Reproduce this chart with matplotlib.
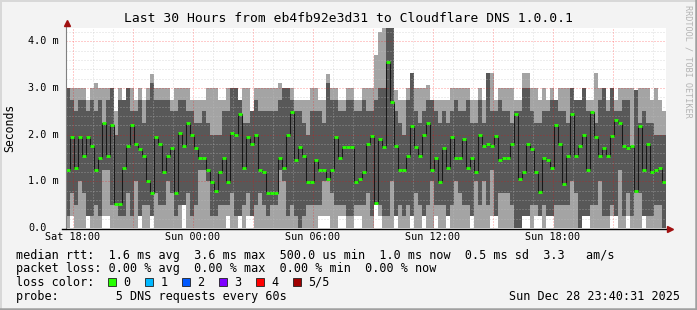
import numpy as np
import pandas as pd
import matplotlib
matplotlib.use("Agg")
import matplotlib.pyplot as plt
import matplotlib.dates as mdates
from matplotlib.patches import Rectangle
from matplotlib.lines import Line2D

# --- data (ms), 150 bins of 12 minutes, sorted pings p1 <= p2 <= median <= p4 <= p5 ---
median = [1.25, 1.95, 1.29, 1.95, 1.54, 1.95, 1.75, 1.25, 1.5, 2.24, 1.54, 2.2, 0.51, 0.51, 1.29, 1.75, 2.2, 1.79, 1.7, 1.54, 1.0, 0.75, 1.95, 1.79,
          1.21, 1.54, 1.71, 0.75, 2.04, 1.75, 2.24, 2.0, 1.71, 1.49, 1.49, 1.24, 0.99, 0.79, 1.21, 1.49, 0.99, 2.04, 2.0, 2.44, 1.29, 1.95, 1.79, 2.0, 1.24, 1.21,
          0.75, 0.75, 0.75, 1.49, 1.29, 2.0, 2.49, 1.46, 1.74, 1.54, 0.99, 0.99, 1.46, 1.24, 1.24, 1.04, 1.24, 1.95, 1.51, 1.74, 1.73, 1.74, 0.99, 1.04, 1.21,
          1.79, 1.97, 0.53, 1.91, 1.73, 3.56, 2.7, 1.75, 1.24, 1.24, 1.54, 2.19, 1.73, 1.54, 2.0, 2.24, 1.24, 1.49, 0.99, 1.71, 1.29, 1.95, 1.51, 1.49, 1.91,
          1.29, 1.51, 1.21, 2.0, 1.75, 1.79, 1.75, 1.97, 1.46, 1.49, 1.49, 1.79, 2.45, 1.04, 1.21, 1.79, 1.69, 1.21, 0.77, 1.49, 1.46, 1.29, 2.21, 1.79, 0.95,
          1.54, 2.45, 1.54, 1.75, 2.0, 1.24, 2.49, 1.95, 1.54, 1.71, 1.54, 1.97, 2.31, 2.24, 1.75, 1.71, 1.75, 0.79, 2.19, 1.24, 1.79, 1.21, 1.24, 1.29, 0.99]

p5 = [3.0, 3.0, 3.0, 3.0, 3.0, 2.75, 3.0, 3.1, 3.0, 3.0, 3.0, 3.0, 2.5, 3.0, 2.75, 3.0, 3.0, 2.75, 3.0, 2.75, 3.0, 3.3, 3.0, 3.0, 3.0,
      3.0, 2.75, 3.0, 3.0, 3.0, 3.0, 2.75, 2.75, 2.75, 2.75, 3.0, 3.0, 3.0, 2.75, 2.75, 3.0, 3.0, 3.0, 2.75, 3.0, 3.0, 2.5, 3.0, 3.0, 3.0,
      3.0, 3.0, 3.0, 3.1, 3.0, 3.0, 3.0, 2.75, 2.75, 2.75, 2.75, 3.0, 3.0, 2.75, 2.75, 3.3, 3.0, 3.0, 2.75, 2.75, 3.0, 3.0, 2.75, 2.75, 3.0,
      3.0, 3.0, 3.7, 4.2, 4.3, 4.3, 4.3, 2.95, 2.75, 2.75, 3.0, 3.32, 3.0, 3.0, 3.0, 3.07, 2.75, 2.75, 2.75, 2.75, 2.75, 3.0, 3.0, 3.0, 3.0,
      3.0, 2.75, 2.75, 3.0, 2.75, 3.32, 3.32, 2.75, 3.0, 3.0, 3.0, 3.0, 2.75, 2.75, 3.32, 3.32, 3.0, 3.0, 2.75, 3.0, 2.75, 3.0, 2.75, 3.0, 3.0,
      3.0, 3.0, 2.75, 2.75, 3.0, 2.75, 2.75, 3.32, 3.0, 3.0, 2.75, 3.0, 2.75, 3.0, 3.0, 3.0, 3.0, 2.95, 3.0, 3.0, 3.0, 2.75, 3.0, 2.75, 2.5]

p4 = [3.0, 2.75, 2.5, 2.75, 2.75, 2.5, 2.75, 2.5, 2.75, 2.25, 2.75, 3.0, 2.0, 2.75, 2.75, 3.0, 2.5, 2.5, 2.75, 2.25, 2.75, 3.1, 2.75, 2.75, 2.75,
      2.75, 2.5, 2.5, 2.75, 2.75, 2.5, 2.5, 2.25, 2.25, 2.5, 2.25, 2.0, 2.0, 2.0, 2.5, 2.5, 3.0, 3.0, 2.75, 2.25, 2.25, 2.5, 2.75, 2.5, 2.5,
      2.5, 2.5, 2.5, 2.75, 3.0, 3.0, 2.75, 2.5, 2.5, 2.25, 2.0, 2.5, 2.5, 2.5, 2.25, 3.1, 2.75, 2.75, 2.5, 2.5, 2.75, 2.75, 2.5, 2.5, 2.75,
      2.5, 2.5, 2.75, 3.0, 3.0, 4.3, 4.3, 2.5, 2.25, 2.0, 2.75, 3.32, 2.5, 2.25, 2.5, 2.75, 2.75, 2.5, 2.25, 2.5, 2.25, 2.5, 2.75, 2.5, 2.5,
      2.75, 2.25, 2.25, 2.75, 2.25, 3.32, 2.5, 2.5, 2.75, 2.5, 2.5, 2.25, 2.5, 2.5, 3.0, 3.0, 2.5, 2.25, 2.25, 2.5, 2.5, 2.75, 2.75, 2.5, 2.5,
      2.25, 3.0, 2.75, 2.75, 3.0, 2.5, 2.5, 2.25, 2.75, 3.0, 2.5, 3.0, 2.5, 2.5, 2.75, 2.75, 1.75, 2.95, 2.25, 2.5, 2.25, 2.25, 2.0, 2.0, 2.0]

p2 = [0.25, 0.75, 0.5, 1.0, 0.75, 0.25, 0.25, 0.5, 0.25, 1.25, 1.25, 0.5, 0.5, 0.25, 0.25, 0.75, 0.25, 1.0, 0.25, 0.5, 0.5, 0.25, 0.75, 0.5, 0.5,
      1.0, 0.75, 0.25, 0.5, 0.5, 0.75, 0.25, 0.5, 1.25, 1.25, 1.0, 0.25, 0.25, 0.5, 0.5, 0.5, 0.75, 0.25, 0.25, 0.5, 0.75, 0.25, 0.5, 0.75, 0.5,
      0.25, 0.5, 0.5, 1.25, 1.0, 0.25, 0.5, 0.25, 0.0, 0.25, 0.5, 0.5, 0.5, 0.5, 1.0, 1.0, 0.75, 0.5, 0.5, 0.5, 0.25, 0.25, 0.5, 0.5, 0.5,
      0.75, 0.25, 0.5, 0.5, 0.25, 0.25, 1.0, 0.25, 0.5, 0.25, 0.5, 0.25, 0.75, 0.5, 0.25, 0.5, 1.0, 0.5, 0.5, 0.5, 0.25, 0.5, 1.0, 0.75, 0.5,
      0.5, 0.25, 1.0, 0.5, 1.0, 0.5, 1.25, 0.25, 0.75, 0.75, 0.75, 0.5, 0.0, 0.0, 0.25, 0.25, 0.5, 0.5, 0.25, 0.5, 0.25, 0.25, 0.5, 0.5, 0.5,
      0.5, 1.0, 0.75, 0.0, 0.25, 0.25, 0.5, 0.5, 1.0, 0.25, 0.25, 0.5, 0.25, 1.25, 0.25, 0.75, 0.25, 0.75, 0.75, 0.25, 0.25, 0.25, 0.5, 0.5, 0.0]

p1 = [0, 0.25, 0, 0, 0, 0.25, 0, 0, 0, 0.25, 0.25, 0, 0, 0, 0, 0, 0, 0, 0.25, 0, 0, 0.25, 0, 0, 0,
      0, 0, 0, 0, 0.5, 0, 0, 0, 0, 0, 0, 0, 0, 0, 0, 0.25, 0, 0, 0.25, 0, 0.25, 0.25, 0, 0, 0,
      0, 0, 0, 0, 0, 0, 0, 0, 0, 0, 0, 0, 0, 0.25, 0.25, 0.25, 0, 0, 0.25, 0.25, 0, 0, 0.25, 0.25, 0,
      0, 0, 0.5, 0.25, 0, 0, 0, 0.25, 0, 0, 0, 0.25, 0, 0, 0.25, 0, 0, 0.25, 0, 0, 0.25, 0, 0, 0, 0,
      0, 0.25, 0, 0, 0, 0, 0.25, 0.25, 0, 0, 0, 0, 0, 0, 0.25, 0.25, 0, 0.25, 0.25, 0, 0.25, 0.25, 0, 0, 0,
      0, 0, 0, 0, 0.25, 0.25, 0, 0, 0, 0, 0, 0.25, 0.25, 0, 0, 0.25, 0, 0, 0, 0.25, 0, 0, 0, 0, 0]

x_labels = ["Sat 18:00", "Sun 00:00", "Sun 06:00", "Sun 12:00", "Sun 18:00"]
x_label_times = ["2025-12-27 18:00", "2025-12-28 00:00", "2025-12-28 06:00", "2025-12-28 12:00", "2025-12-28 18:00"]
y_ticks = [0, 1, 2, 3, 4]
y_labels = ["0.0", "1.0 m", "2.0 m", "3.0 m", "4.0 m"]
loss_labels = ["0", "1", "2", "3", "4", "5/5"]
loss_colors = ["#26ff00", "#00b8ff", "#0059ff", "#7e00ff", "#ff0000", "#a00000"]

title = "Last 30 Hours from eb4fb92e3d31 to Cloudflare DNS 1.0.0.1"
legend_lines = [
    "median rtt:  1.6 ms avg  3.6 ms max  500.0 us min  1.0 ms now  0.5 ms sd  3.3   am/s",
    "packet loss: 0.00 % avg  0.00 % max  0.00 % min  0.00 % now",
    "loss color:",
    "probe:        5 DNS requests every 60s",
]
stamp = "Sun Dec 28 23:40:31 2025"

MONO = "DejaVu Sans Mono"
W, H = 697, 310

edges = mdates.date2num(pd.date_range("2025-12-27 17:39", periods=len(median) + 1, freq="12min").to_pydatetime())

def ext(a):
    a = np.asarray(a, dtype=float)
    return np.append(a, a[-1])

fig = plt.figure(figsize=(W / 100, H / 100), dpi=100, facecolor="#f3f3f3")
ax = fig.add_axes([66 / W, 1 - 228 / H, 600 / W, 200 / H])
ax.set_facecolor("white")

# smoke
ax.fill_between(edges, ext(p1), ext(p5), step="post", color="#a4a4a4", lw=0, zorder=1)
ax.fill_between(edges, ext(p2), ext(p4), step="post", color="#585858", lw=0, zorder=2)

ymax = 200 / 46.67
ax.set_ylim(0, ymax)
ax.set_xlim(edges[0], edges[-1])

# grid on top of the smoke
dots = (0, (1, 2))
for v in np.arange(0.2, ymax, 0.2):
    if abs(v - round(v)) > 0.01:
        ax.axhline(v, color="#c0c0c0", alpha=0.55, lw=0.72, ls=dots, zorder=3)
for v in y_ticks[1:]:
    ax.axhline(v, color="#ff0000", alpha=0.4, lw=0.72, ls=dots, zorder=3)
hours = pd.date_range("2025-12-27 18:00", "2025-12-28 23:00", freq="1h")
for t in hours:
    col, a = ("#ff0000", 0.4) if t.hour % 3 == 0 else ("#c0c0c0", 0.55)
    ax.axvline(mdates.date2num(t.to_pydatetime()), color=col, alpha=a, lw=0.72, ls=dots, zorder=3)

# median line + loss coloured dashes
ax.step(edges, ext(median), where="post", color="#181818", lw=0.75, zorder=4)
ax.hlines(median, edges[:-1], edges[1:], color=loss_colors[0], lw=2.0, zorder=5)

# axes
for s in ax.spines.values():
    s.set_visible(False)
ax.set_yticks(y_ticks)
ax.set_yticklabels([])
for v, lab in zip(y_ticks, y_labels):
    ax.text(28 / W, v, lab, family=MONO, fontsize=7.3, ha="left", va="center",
            transform=ax.get_yaxis_transform().__class__(fig.transFigure, ax.transData))
xt = mdates.date2num(pd.to_datetime(x_label_times).to_pydatetime())
ax.set_xticks(xt)
ax.set_xticklabels(x_labels, family=MONO, fontsize=7.3)
ax.tick_params(axis="both", length=0, colors="black")
ax.tick_params(axis="x", pad=3.2)

# axis lines and arrows (figure pixel coords)
def px(x, y):
    return x / W, 1 - y / H
fig.add_artist(Line2D([px(66, 0)[0]] * 2, [px(0, 229)[1], px(0, 24)[1]], color="#808080", lw=0.8))
fig.add_artist(Line2D([px(62, 0)[0], px(669, 0)[0]], [px(0, 228.5)[1]] * 2, color="black", lw=1.0))
fig.add_artist(Line2D([px(66.5, 0)[0]], [px(0, 23)[1]], marker="^", ms=4, color="#a01010", mec="#a01010"))
fig.add_artist(Line2D([px(670, 0)[0]], [px(0, 228.5)[1]], marker=">", ms=4, color="#a01010", mec="#a01010"))

# texts
fig.text(348 / W, 1 - 19 / H, title, family=MONO, fontsize=9.4, ha="center", va="center")
fig.text(10 / W, 1 - 128 / H, "Seconds", family=MONO, fontsize=8.3, rotation=90, ha="center", va="center")
fig.text(688 / W, 1 - 5 / H, "RRDTOOL / TOBI OETIKER", family=MONO, fontsize=6.1, color="#b4b4b4",
         rotation=270, ha="center", va="top")
for i, line in enumerate(legend_lines):
    fig.text(16 / W, 1 - (255 + 13.7 * i) / H, line, family=MONO, fontsize=8.5, ha="left", va="center")
for i, (lab, col) in enumerate(zip(loss_labels, loss_colors)):
    bx = 108.3 + 37 * i
    fig.add_artist(Rectangle((bx / W, 1 - 286 / H), 7.5 / W, 7.7 / H, facecolor=col, edgecolor="#202020", lw=0.6))
    fig.text((bx + 15) / W, 1 - 282.4 / H, lab, family=MONO, fontsize=8.5, ha="left", va="center")
fig.text(680 / W, 1 - 296 / H, stamp, family=MONO, fontsize=8.5, ha="right", va="center")

# image frame
fig.add_artist(Line2D([0, 1], [1 - 0.5 / H] * 2, color="#d8d8d8", lw=1.4))
fig.add_artist(Line2D([0.5 / W] * 2, [0, 1], color="#d8d8d8", lw=1.4))
fig.add_artist(Line2D([0, 1], [1.2 / H] * 2, color="#a0a0a0", lw=1.8))
fig.add_artist(Line2D([1 - 1.2 / W] * 2, [0, 1], color="#a0a0a0", lw=1.8))

fig.savefig("out.png", dpi=100, facecolor=fig.get_facecolor())
